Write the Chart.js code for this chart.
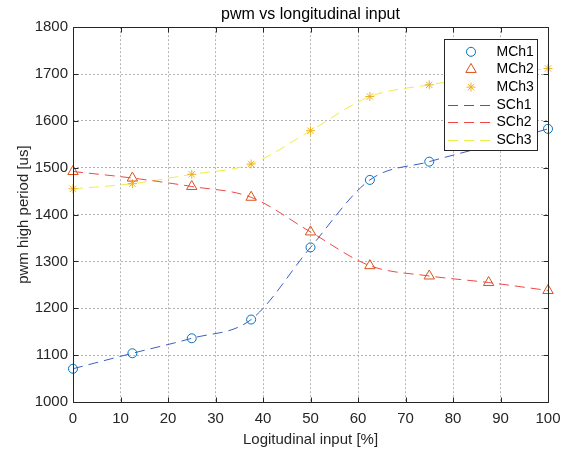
<!DOCTYPE html>
<html>
<head>
<meta charset="utf-8">
<script src="https://cdn.jsdelivr.net/npm/chart.js@4.4.1/dist/chart.umd.min.js"></script>
<style>
  body { margin: 0; background: #fff; }
</style>
</head>
<body>
<canvas id="grafico" width="570" height="452"></canvas>
<script>
// dados
var entrada = [0, 12.5, 25, 37.5, 50, 62.5, 75, 87.5, 100];
var ch1 = [1071, 1104, 1136, 1176, 1330, 1474, 1513, 1547, 1583];
var ch2 = [1492, 1478, 1460, 1437, 1363, 1291, 1269, 1255, 1238];
var ch3 = [1455, 1466, 1486, 1508, 1579, 1652, 1677, 1696, 1712];
var nomesMedidos = ['MCh1', 'MCh2', 'MCh3'];
var nomesSpline = ['SCh1', 'SCh2', 'SCh3'];
var xTicks = [0, 10, 20, 30, 40, 50, 60, 70, 80, 90, 100];
var yTicks = [1000, 1100, 1200, 1300, 1400, 1500, 1600, 1700, 1800];

var coresMarcador = ['#0072BD', '#D95319', '#EDB120'];
var coresLinha = ['#3d5fc4', '#f04848', '#eded48'];
var formas = ['circle', 'triangle', 'star'];
var raios = [4.5, 6, 4.5];

function pontos(ys) {
    return entrada.map(function (x, i) { return { x: x, y: ys[i] }; });
}

var series = [ch1, ch2, ch3];
var datasets = [];
series.forEach(function (ys, i) {
    datasets.push({
        label: nomesMedidos[i],
        data: pontos(ys),
        showLine: false,
        pointStyle: formas[i],
        pointRadius: raios[i],
        pointBorderColor: coresMarcador[i],
        pointBackgroundColor: 'rgba(0,0,0,0)',
        pointBorderWidth: 1,
        clip: false
    });
});
series.forEach(function (ys, i) {
    datasets.push({
        label: nomesSpline[i],
        data: pontos(ys),
        showLine: true,
        borderColor: coresLinha[i],
        borderWidth: 1,
        borderDash: [10, 6],
        cubicInterpolationMode: 'monotone',
        pointRadius: 0
    });
});

function desenhaMarcador(ctx, forma, x, y, r, cor) {
    ctx.save();
    ctx.strokeStyle = cor;
    ctx.lineWidth = 1;
    ctx.beginPath();
    if (forma === 'circle') {
        ctx.arc(x, y, r, 0, Math.PI * 2);
    } else if (forma === 'triangle') {
        var a = 0;
        ctx.moveTo(x + Math.sin(a) * r, y - Math.cos(a) * r);
        a += Math.PI * 2 / 3;
        ctx.lineTo(x + Math.sin(a) * r, y - Math.cos(a) * r);
        a += Math.PI * 2 / 3;
        ctx.lineTo(x + Math.sin(a) * r, y - Math.cos(a) * r);
        ctx.closePath();
    } else {
        for (var k = 0; k < 4; k++) {
            var t = k * Math.PI / 4;
            ctx.moveTo(x - Math.cos(t) * r, y - Math.sin(t) * r);
            ctx.lineTo(x + Math.cos(t) * r, y + Math.sin(t) * r);
        }
    }
    ctx.stroke();
    ctx.restore();
}

// caixa dos eixos, ticks para dentro e legenda estilo matlab
var moldura = {
    id: 'moldura',
    afterDraw: function (chart) {
        var ctx = chart.ctx;
        var a = chart.chartArea;
        var sx = chart.scales.x, sy = chart.scales.y;
        var l = Math.round(a.left) + 0.5, r = Math.round(a.right) + 0.5;
        var t = Math.round(a.top) + 0.5, b = Math.round(a.bottom) + 0.5;
        ctx.save();
        ctx.strokeStyle = '#262626';
        ctx.lineWidth = 1;
        ctx.beginPath();
        ctx.rect(l, t, r - l, b - t);
        xTicks.forEach(function (v) {
            var px = Math.round(sx.getPixelForValue(v)) + 0.5;
            ctx.moveTo(px, b); ctx.lineTo(px, b - 5);
            ctx.moveTo(px, t); ctx.lineTo(px, t + 5);
        });
        yTicks.forEach(function (v) {
            var py = Math.round(sy.getPixelForValue(v)) + 0.5;
            ctx.moveTo(l, py); ctx.lineTo(l + 5, py);
            ctx.moveTo(r, py); ctx.lineTo(r - 5, py);
        });
        ctx.stroke();

        // legenda
        var bx = 444.5, by = 39.5, bw = 93, bh = 111;
        ctx.fillStyle = '#fff';
        ctx.fillRect(bx, by, bw, bh);
        ctx.strokeStyle = '#262626';
        ctx.strokeRect(bx, by, bw, bh);
        ctx.font = '14px "Liberation Sans", Arial, sans-serif';
        ctx.fillStyle = '#000';
        ctx.textBaseline = 'middle';
        ctx.textAlign = 'left';
        for (var i = 0; i < 6; i++) {
            var yy = by + 12.3 + i * 17.65;
            if (i < 3) {
                desenhaMarcador(ctx, formas[i], bx + 26.5, yy, raios[i], coresMarcador[i]);
                ctx.fillText(nomesMedidos[i], bx + 52, yy);
            } else {
                ctx.save();
                ctx.strokeStyle = coresLinha[i - 3];
                ctx.setLineDash([10, 6]);
                ctx.beginPath();
                ctx.moveTo(bx + 3.5, Math.round(yy) + 0.5);
                ctx.lineTo(bx + 48, Math.round(yy) + 0.5);
                ctx.stroke();
                ctx.restore();
                ctx.fillText(nomesSpline[i - 3], bx + 52, yy);
            }
        }
        ctx.restore();
    }
};

Chart.defaults.font.family = '"Liberation Sans", Arial, sans-serif';
Chart.defaults.color = '#262626';

function semVirgula(v) { return String(v); }

var ctx = document.getElementById('grafico').getContext('2d');
new Chart(ctx, {
    type: 'scatter',
    data: { datasets: datasets },
    options: {
        responsive: false,
        animation: false,
        layout: { padding: { left: 0, right: 22, top: 0, bottom: 0 } },
        plugins: {
            legend: { display: false },
            tooltip: { enabled: false },
            title: {
                display: true,
                text: 'pwm vs longitudinal input',
                fullSize: false,
                color: '#000',
                font: { size: 16, weight: 'normal' },
                padding: { top: 5, bottom: 3 }
            }
        },
        scales: {
            x: {
                type: 'linear',
                min: 0,
                max: 100,
                afterBuildTicks: function (scale) {
                    scale.ticks = xTicks.map(function (v) { return { value: v }; });
                },
                afterFit: function (scale) { scale.height = 50; },
                ticks: { font: { size: 15 }, color: '#262626', padding: 8, maxRotation: 0, callback: semVirgula },
                grid: { color: '#b4b4b4', drawTicks: false },
                border: { display: false, dash: [2, 2] },
                title: {
                    display: true,
                    text: 'Logitudinal input [%]',
                    color: '#262626',
                    font: { size: 15 },
                    padding: { top: 0, bottom: 3 }
                }
            },
            y: {
                type: 'linear',
                min: 1000,
                max: 1800,
                afterBuildTicks: function (scale) {
                    scale.ticks = yTicks.map(function (v) { return { value: v }; });
                },
                afterFit: function (scale) { scale.width = 73; },
                ticks: { font: { size: 15 }, color: '#262626', padding: 5, callback: semVirgula },
                grid: { color: '#b4b4b4', drawTicks: false },
                border: { display: false, dash: [2, 2] },
                title: {
                    display: true,
                    text: 'pwm high period [us]',
                    color: '#262626',
                    font: { size: 15 },
                    padding: { top: 14.5, bottom: 0 }
                }
            }
        }
    },
    plugins: [moldura]
});
</script>
</body>
</html>
